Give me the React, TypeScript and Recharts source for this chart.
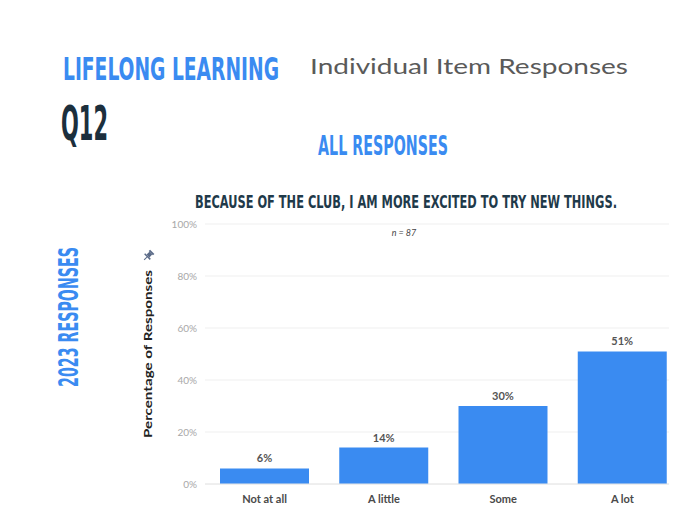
import React from "react";
import {
  BarChart,
  Bar,
  XAxis,
  YAxis,
  CartesianGrid,
  LabelList,
} from "recharts";

// Answer options and their share of responses (n = 87)
const categories = ["Not at all", "A little", "Some", "A lot"];
const percentages = [6, 14, 30, 51];
const yTicks = [0, 20, 40, 60, 80, 100];

const data = categories.map((category, i) => ({
  category,
  pct: percentages[i],
}));

const BLUE = "#3a8bf1";
const CONDENSED = "'Liberation Sans Narrow', 'DejaVu Sans Condensed', sans-serif";
const BODY = "Lato, 'Noto Sans', sans-serif";

export default function App() {
  return (
    <div
      style={{
        position: "relative",
        width: 677,
        height: 519,
        margin: -8,
        overflow: "hidden",
        background: "#fff",
      }}
    >
      {/* Chart is a little wider than the frame, the last bar gets clipped like the original */}
      <div style={{ position: "absolute", left: 0, top: 0 }}>
        <BarChart
          width={700}
          height={519}
          data={data}
          margin={{ top: 224, right: 18, bottom: 5, left: 0 }}
          barSize={89}
        >
          <CartesianGrid vertical={false} stroke="#efefef" />
          <XAxis
            dataKey="category"
            height={30}
            tickLine={false}
            axisLine={{ stroke: "#e6e6e6" }}
            tickMargin={5}
            tick={{ fill: "#4a4a4a", fontSize: 11, fontWeight: 700, fontFamily: BODY }}
            interval={0}
          />
          <YAxis
            width={205}
            domain={[0, 100]}
            ticks={yTicks}
            tickFormatter={(v) => `${v}%`}
            axisLine={false}
            tickLine={false}
            tickSize={0}
            tickMargin={8}
            tick={{ fill: "#a8a8a8", fontSize: 10, fontFamily: BODY }}
          />
          <Bar dataKey="pct" fill={BLUE} isAnimationActive={false}>
            <LabelList
              dataKey="pct"
              position="top"
              offset={6}
              formatter={(v: number) => `${v}%`}
              style={{ fill: "#555", fontSize: 11, fontWeight: 700, fontFamily: BODY }}
            />
          </Bar>
        </BarChart>
      </div>

      {/* Headings and side labels */}
      <svg
        width={677}
        height={519}
        style={{ position: "absolute", left: 0, top: 0, pointerEvents: "none" }}
      >
        <text x={360} y={4} textAnchor="middle" fontFamily={BODY} fontWeight={700} fontSize={18} fill="#111">
          Figure 6
        </text>
        <text
          x={63}
          y={80}
          fontFamily={CONDENSED}
          fontWeight={700}
          fontSize={32}
          fill={BLUE}
          textLength={216}
          lengthAdjust="spacingAndGlyphs"
        >
          LIFELONG LEARNING
        </text>
        <text
          x={310}
          y={74}
          fontFamily={BODY}
          fontSize={22}
          fill="#5a5a5a"
          textLength={318}
          lengthAdjust="spacingAndGlyphs"
        >
          Individual Item Responses
        </text>
        <text
          x={61}
          y={140}
          fontFamily={CONDENSED}
          fontWeight={700}
          fontSize={48}
          fill="#1c2f3d"
          textLength={47}
          lengthAdjust="spacingAndGlyphs"
        >
          Q12
        </text>
        <text
          x={318}
          y={155}
          fontFamily={CONDENSED}
          fontWeight={700}
          fontSize={27}
          fill={BLUE}
          textLength={130}
          lengthAdjust="spacingAndGlyphs"
        >
          ALL RESPONSES
        </text>
        <text
          x={195}
          y={208}
          fontFamily={CONDENSED}
          fontWeight={700}
          fontSize={18}
          fill="#1f3a4a"
          textLength={422}
          lengthAdjust="spacingAndGlyphs"
        >
          BECAUSE OF THE CLUB,  I AM MORE EXCITED TO TRY NEW THINGS.
        </text>
        <text
          transform="translate(78, 317) rotate(-90)"
          textAnchor="middle"
          fontFamily={CONDENSED}
          fontWeight={700}
          fontSize={27}
          fill={BLUE}
          textLength={140}
          lengthAdjust="spacingAndGlyphs"
        >
          2023 RESPONSES
        </text>
        <text
          transform="translate(152, 354) rotate(-90)"
          textAnchor="middle"
          fontFamily={BODY}
          fontWeight={700}
          fontSize={11}
          fill="#222"
          textLength={168}
          lengthAdjust="spacingAndGlyphs"
        >
          Percentage of Responses
        </text>
        {/* little push pin */}
        <g transform="translate(148, 256) rotate(45)" fill="#5b6b88">
          <rect x={-3} y={-6} width={6} height={2} />
          <rect x={-2} y={-4} width={4} height={4} />
          <rect x={-4} y={0} width={8} height={1.5} />
          <rect x={-0.5} y={1.5} width={1} height={4} />
        </g>
        <text
          x={404}
          y={236}
          textAnchor="middle"
          fontFamily={BODY}
          fontStyle="italic"
          fontSize={9}
          fill="#444"
        >
          n = 87
        </text>
      </svg>
    </div>
  );
}
